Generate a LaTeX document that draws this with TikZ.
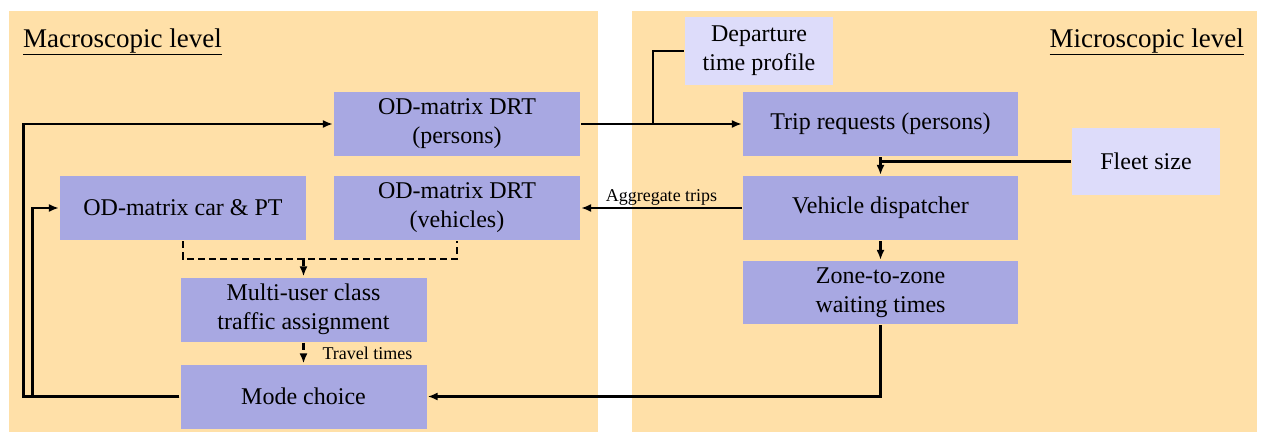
\documentclass[tikz,border=0pt]{standalone}
\usepackage{fontspec}
\setmainfont{Liberation Serif}
\usetikzlibrary{arrows.meta}
\definecolor{panel}{HTML}{FFE0A8}
\definecolor{boxfill}{HTML}{A8A8E2}
\definecolor{lightfill}{HTML}{DDDCFA}

\begin{document}
\begin{tikzpicture}[x=1pt, y=-1pt, line width=2.2pt, >={Latex[length=10pt,width=8pt]},
    main/.style = {fill=boxfill, minimum width=246pt, minimum height=64pt, inner sep=0pt, align=center, font=\rmfamily\fontsize{24}{29}\selectfont},
    side/.style = {main, fill=lightfill, minimum width=148pt},
    wide/.style = {main, minimum width=275pt},
    lbl/.style = {font=\rmfamily\fontsize{18}{20}\selectfont, inner sep=2pt},
    title/.style = {font=\rmfamily\fontsize{27}{30}\selectfont, inner sep=0pt},
    dash/.style = {}]
    \useasboundingbox (0,0) rectangle (1262,433);
    \fill[panel] (9,11) rectangle (598,432);
    \fill[panel] (632,11) rectangle (1257,432);

    \node[title, anchor=west] (macro) at (22,42) {\underline{Macroscopic level}};
    \node[title, anchor=east] (micro) at (1245,42) {\underline{Microscopic level}};

    \node[main] (drtp) at (457,124) {OD-matrix DRT\\(persons)};
    \node[main] (car) at (183,208) {OD-matrix car \& PT};
    \node[main] (drtv) at (457,208) {OD-matrix DRT\\(vehicles)};
    \node[main] (assign) at (303.5,309.5) {Multi-user class\\traffic assignment};
    \node[main] (mode) at (303.5,396.5) {Mode choice};
    \node[side, minimum height=68pt] (dep) at (759,51) {Departure\\time profile};
    \node[wide] (trip) at (880.5,124) {Trip requests (persons)};
    \node[side, minimum height=67pt] (fleet) at (1146,161.5) {Fleet size};
    \node[wide] (disp) at (880.5,208) {Vehicle dispatcher};
    \node[wide, minimum height=63pt] (zone) at (880.5,292.5) {Zone-to-zone\\waiting times};
    \coordinate (join) at (653,124);
    \coordinate (merge) at (303.5,259);

    \draw[->] (drtp) -- (trip);
    \draw (dep.west) -| (join);
    \draw[->] (trip) -- (disp);
    \draw (fleet.west) -- (fleet.west -| trip.south);
    \draw[->] (disp) -- (zone);
    \draw[->] (disp) -- node[lbl, above] {Aggregate trips} (drtv);
    \draw[->] (zone.south) |- (mode.east);
    \draw[->] (mode.west) -- ++(-156,0) |- (drtp.west);
    \draw[->] (mode.west) -- ++(-147,0) |- (car.west);
    \draw[dash pattern=on 7pt off 4pt] (car.south) |- (merge) -| (drtv.south);
    \draw[dash pattern=on 7pt off 4pt, ->] (merge) -- (assign);
    \draw[dash pattern=on 7pt off 4pt, ->] (assign) -- node[lbl, right, xshift=16pt] {Travel times} (mode);
\end{tikzpicture}
\end{document}
